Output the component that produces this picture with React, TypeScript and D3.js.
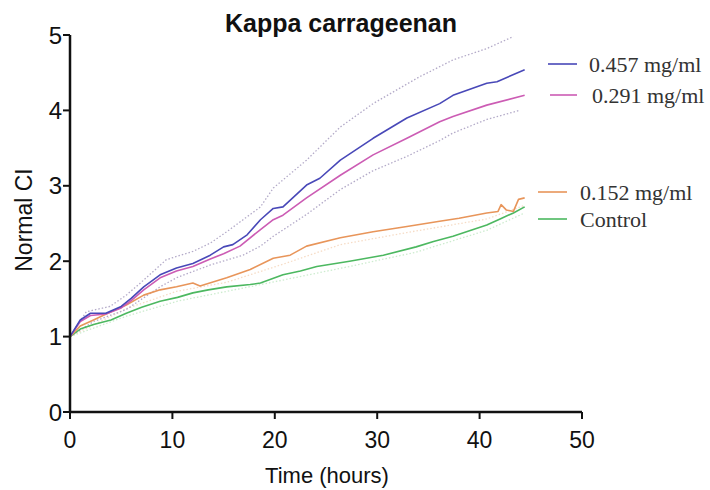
import React from "react";
import * as d3 from "d3";

const title = "Kappa carrageenan";
const xLabel = "Time (hours)";
const yLabel = "Normal CI";
const xTicks = [0, 10, 20, 30, 40, 50];
const yTicks = [0, 1, 2, 3, 4, 5];

const blueT = [0, 1, 2, 3.5, 5, 6, 7.2, 8.8, 10.4, 12, 13.7, 15, 15.9, 17.3, 18.6, 19.85, 20.8, 23.1, 24.4, 26.4, 29.6, 32.9, 36.1, 37.4, 40.7, 41.7, 44.4];
const blueV = [1.0, 1.22, 1.31, 1.31, 1.40, 1.51, 1.66, 1.82, 1.91, 1.97, 2.08, 2.19, 2.22, 2.35, 2.55, 2.70, 2.72, 3.01, 3.10, 3.34, 3.63, 3.90, 4.09, 4.20, 4.36, 4.38, 4.54];

const pinkT = [0, 1, 2, 3.5, 5, 6, 7.2, 8.8, 10.4, 12, 13.7, 15, 16.6, 18.6, 19.85, 20.8, 23.1, 26.4, 29.6, 32.9, 36.1, 37.4, 40.7, 44.4];
const pinkV = [1.0, 1.20, 1.28, 1.30, 1.38, 1.48, 1.62, 1.78, 1.87, 1.93, 2.03, 2.10, 2.20, 2.42, 2.55, 2.61, 2.84, 3.14, 3.41, 3.63, 3.85, 3.92, 4.07, 4.20];

const orangeT = [0, 1, 2.3, 4, 5.5, 7.2, 8.8, 10.4, 12, 12.7, 15.3, 17.6, 19.85, 21.5, 23.1, 26.4, 29.6, 32.9, 36.1, 38, 40.7, 41.8, 42.1, 42.6, 43.3, 43.8, 44.4];
const orangeV = [1.0, 1.14, 1.22, 1.33, 1.42, 1.55, 1.62, 1.66, 1.71, 1.67, 1.78, 1.89, 2.04, 2.08, 2.20, 2.31, 2.39, 2.46, 2.53, 2.57, 2.64, 2.66, 2.75, 2.68, 2.66, 2.82, 2.84];

const greenT = [0, 1, 2.3, 4, 5.5, 7, 8.8, 10.5, 12, 13.5, 15.3, 17.6, 18.6, 20.8, 22.5, 24.1, 27.3, 30.6, 33.8, 35.5, 37.4, 40.7, 42, 43.3, 44.4];
const greenV = [1.0, 1.10, 1.16, 1.22, 1.31, 1.39, 1.47, 1.52, 1.58, 1.62, 1.66, 1.69, 1.71, 1.82, 1.87, 1.93, 2.00, 2.08, 2.19, 2.26, 2.33, 2.48, 2.56, 2.64, 2.72];

const upperT = [0, 1.6, 3.9, 5.5, 7.2, 9.4, 12, 13.7, 15.3, 16.9, 18.6, 19.85, 23.1, 26.4, 29.6, 32.9, 34.2, 36.1, 37.4, 40.7, 43.3];
const upperV = [1.0, 1.33, 1.40, 1.55, 1.75, 2.02, 2.13, 2.24, 2.39, 2.55, 2.72, 2.97, 3.34, 3.78, 4.09, 4.35, 4.45, 4.58, 4.67, 4.82, 4.98];

const lowerT = [0, 2.3, 5.5, 8.8, 10.4, 13.7, 16.9, 18.6, 19.85, 23.1, 26.4, 29.6, 32.9, 36.1, 37.4, 40.7, 43.9];
const lowerV = [1.0, 1.20, 1.36, 1.66, 1.78, 1.95, 2.08, 2.20, 2.33, 2.62, 2.95, 3.20, 3.39, 3.60, 3.70, 3.88, 4.0];

const greenLowT = [0, 5.5, 10.5, 15.3, 20.8, 27.3, 33.8, 40.7, 44.4];
const greenLowV = [1.0, 1.27, 1.47, 1.60, 1.75, 1.93, 2.12, 2.41, 2.64];

const orangeLowT = [0, 5.5, 10.4, 15.3, 20.8, 26.4, 32.9, 40.7, 44.4];
const orangeLowV = [1.0, 1.37, 1.60, 1.72, 1.96, 2.22, 2.38, 2.56, 2.74];

const seriesNames = ["0.457 mg/ml", "0.291 mg/ml", "0.152 mg/ml", "Control"];
const seriesColors = ["#4848b8", "#cc5cb4", "#e8955a", "#4cb860"];

export default function App() {
  const width = 710;
  const height = 490;
  const x = d3.scaleLinear().domain([0, 50]).range([70, 582]);
  const y = d3.scaleLinear().domain([0, 5]).range([412, 35]);
  const line = d3
    .line<[number, number]>()
    .x((d) => x(d[0]))
    .y((d) => y(d[1]));
  const zip = (t: number[], v: number[]) => t.map((tt, i) => [tt, v[i]] as [number, number]);

  const series = [
    zip(blueT, blueV),
    zip(pinkT, pinkV),
    zip(orangeT, orangeV),
    zip(greenT, greenV),
  ];
  const legendY = [64, 95, 192, 219];
  const legendLineX = [
    [548, 577],
    [550, 577],
    [538, 567],
    [538, 567],
  ];
  const legendTextX = [589, 592, 580, 580];

  const sans = "'Liberation Sans', Arial, sans-serif";
  const serif = "'Liberation Serif', 'Times New Roman', serif";

  return (
    <svg width={width} height={height} style={{ position: "absolute", left: 0, top: 0, background: "#fff" }}>
      <rect width={width} height={height} fill="#fff" />
      <text x={341} y={32} textAnchor="middle" fontFamily={sans} fontWeight="bold" fontSize={25} fill="#111">
        {title}
      </text>

      {/* SD bands */}
      <path d={line(zip(greenLowT, greenLowV)) || ""} fill="none" stroke="#cdeccf" strokeWidth={1.3} strokeDasharray="1.5,2" />
      <path d={line(zip(orangeLowT, orangeLowV)) || ""} fill="none" stroke="#f6dcc6" strokeWidth={1.3} strokeDasharray="1.5,2" />
      <path d={line(zip(upperT, upperV)) || ""} fill="none" stroke="#b3aac8" strokeWidth={1.3} strokeDasharray="1.5,2" />
      <path d={line(zip(lowerT, lowerV)) || ""} fill="none" stroke="#b3aac8" strokeWidth={1.3} strokeDasharray="1.5,2" />

      {/* series (draw back to front) */}
      {[3, 2, 1, 0].map((i) => (
        <path key={i} d={line(series[i]) || ""} fill="none" stroke={seriesColors[i]} strokeWidth={1.6} strokeLinejoin="round" />
      ))}

      {/* axes */}
      <line x1={x(0)} x2={x(50)} y1={y(0)} y2={y(0)} stroke="#111" strokeWidth={2.5} />
      <line x1={x(0)} x2={x(0)} y1={y(0) + 1} y2={y(5)} stroke="#111" strokeWidth={2.5} />
      {xTicks.map((t) => (
        <g key={"x" + t}>
          <line x1={x(t)} x2={x(t)} y1={y(0)} y2={y(0) + 7} stroke="#111" strokeWidth={2} />
          <text x={x(t)} y={448} textAnchor="middle" fontFamily={sans} fontSize={23} fill="#111">
            {t}
          </text>
        </g>
      ))}
      {yTicks.map((t) => (
        <g key={"y" + t}>
          <line x1={x(0) - 7} x2={x(0)} y1={y(t)} y2={y(t)} stroke="#111" strokeWidth={2} />
          <text x={62} y={y(t)} dy="0.36em" textAnchor="end" fontFamily={sans} fontSize={24} fill="#111">
            {t}
          </text>
        </g>
      ))}
      <text x={327} y={483} textAnchor="middle" fontFamily={sans} fontSize={22} fill="#111">
        {xLabel}
      </text>
      <text
        transform={`translate(32,220) rotate(-90)`}
        textAnchor="middle"
        fontFamily={sans}
        fontSize={23}
        fill="#111"
      >
        {yLabel}
      </text>

      {/* legend */}
      {seriesNames.map((n, i) => (
        <g key={n}>
          <line x1={legendLineX[i][0]} x2={legendLineX[i][1]} y1={legendY[i]} y2={legendY[i]} stroke={seriesColors[i]} strokeWidth={1.6} />
          <text x={legendTextX[i]} y={legendY[i] + 8} fontFamily={serif} fontSize={22} fill="#333">
            {n}
          </text>
        </g>
      ))}
    </svg>
  );
}
